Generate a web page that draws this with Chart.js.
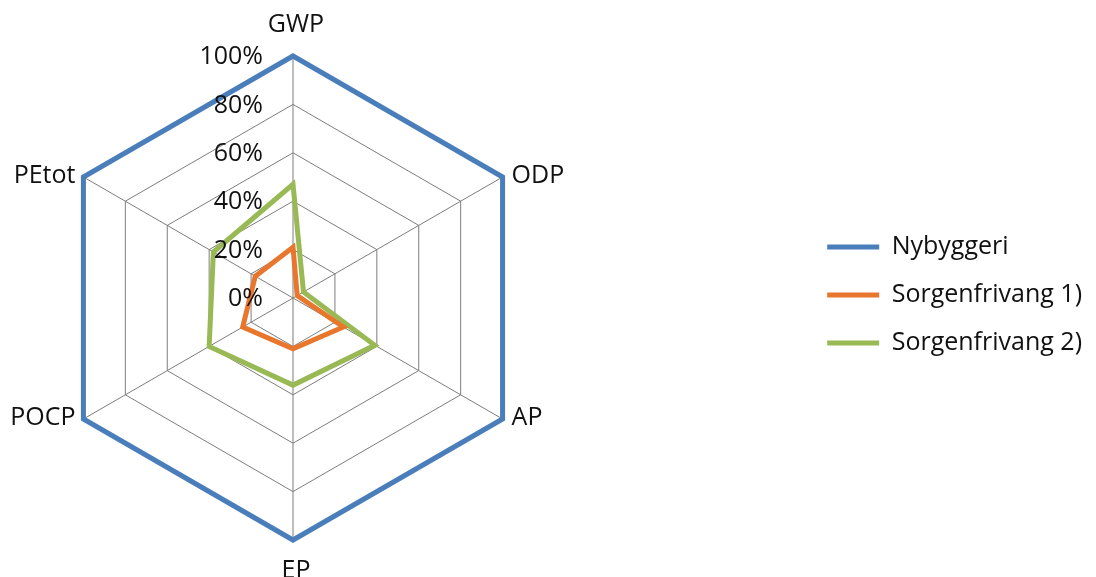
<!DOCTYPE html>
<html>
<head>
<meta charset="utf-8">
<script src="https://cdn.jsdelivr.net/npm/chart.js@4.4.0/dist/chart.umd.min.js"></script>
<style>
  html, body { margin: 0; padding: 0; background: #ffffff; }
  #wrap { width: 1096px; height: 577px; position: relative; }
</style>
</head>
<body>
<div id="wrap"><canvas id="c" width="1096" height="577"></canvas></div>
<script>
const categories = ['GWP', 'ODP', 'AP', 'EP', 'POCP', 'PEtot'];
const seriesNames = ['Nybyggeri', 'Sorgenfrivang 1)', 'Sorgenfrivang 2)'];
const nybyggeri = [100, 100, 100, 100, 100, 100];
const sorgenfrivang1 = [21, 2, 24, 21, 24, 18];
const sorgenfrivang2 = [47, 5, 39, 36, 40, 38];
const tickValues = [0, 20, 40, 60, 80, 100];
const tickLabels = ['0%', '20%', '40%', '60%', '80%', '100%'];

const colors = ['#4A7EBB', '#E8762D', '#98B954'];
const FONT = '"Open Sans", "Liberation Sans", sans-serif';
const TEXT = '#111111';

const labelPlugin = {
  id: 'customLabels',
  afterDraw(chart) {
    const s = chart.scales.r;
    const ctx = chart.ctx;
    ctx.save();
    ctx.fillStyle = TEXT;
    ctx.font = '25px ' + FONT;
    ctx.textAlign = 'right';
    ctx.textBaseline = 'middle';
    tickValues.forEach((v, i) => {
      const d = s.getDistanceFromCenterForValue(v);
      ctx.fillText(tickLabels[i], s.xCenter - 30, s.yCenter - d + 1);
    });
    categories.forEach((lab, i) => {
      const p = s.getPointPosition(i, s.drawingArea);
      let x = p.x, y = p.y;
      const dx = p.x - s.xCenter;
      if (Math.abs(dx) < 5) {
        ctx.textAlign = 'center';
        y += (p.y < s.yCenter) ? -31 : 31;
        x += 3;
      } else if (dx > 0) {
        ctx.textAlign = 'left';
        x += 9;
        y -= 1;
      } else {
        ctx.textAlign = 'right';
        x -= 8;
        y -= 1;
      }
      ctx.fillText(lab, x, y);
    });
    ctx.restore();
  }
};

new Chart(document.getElementById('c'), {
  type: 'radar',
  data: {
    labels: categories,
    datasets: [
      { label: seriesNames[0], data: nybyggeri, borderColor: colors[0], backgroundColor: colors[0], borderWidth: 5, pointRadius: 0, fill: false, order: 3, borderJoinStyle: 'miter' },
      { label: seriesNames[1], data: sorgenfrivang1, borderColor: colors[1], backgroundColor: colors[1], borderWidth: 5, pointRadius: 0, fill: false, order: 1, borderJoinStyle: 'miter' },
      { label: seriesNames[2], data: sorgenfrivang2, borderColor: colors[2], backgroundColor: colors[2], borderWidth: 5, pointRadius: 0, fill: false, order: 2, borderJoinStyle: 'miter' }
    ]
  },
  options: {
    responsive: false,
    animation: false,
    layout: { padding: { right: 4, top: 13 } },
    elements: { line: { tension: 0 } },
    plugins: {
      tooltip: { enabled: false },
      legend: {
        position: 'right',
        labels: {
          boxWidth: 52,
          boxHeight: 5,
          padding: 23,
          color: TEXT,
          font: { size: 25, family: FONT },
          generateLabels(chart) {
            return chart.data.datasets.map((ds, i) => ({
              text: ds.label,
              fillStyle: ds.borderColor,
              strokeStyle: ds.borderColor,
              lineWidth: 0,
              hidden: false,
              datasetIndex: i,
              fontColor: TEXT
            }));
          }
        }
      }
    },
    scales: {
      r: {
        min: 0,
        max: 100,
        ticks: { stepSize: 20, display: false },
        grid: { color: '#7d7d7d', lineWidth: 1 },
        angleLines: { color: '#7d7d7d', lineWidth: 1 },
        pointLabels: { display: false },
        afterFit(scale) {
          scale.xCenter = 293;
          scale.yCenter = 298;
          scale.drawingArea = 242;
        }
      }
    }
  },
  plugins: [labelPlugin]
});
</script>
</body>
</html>
